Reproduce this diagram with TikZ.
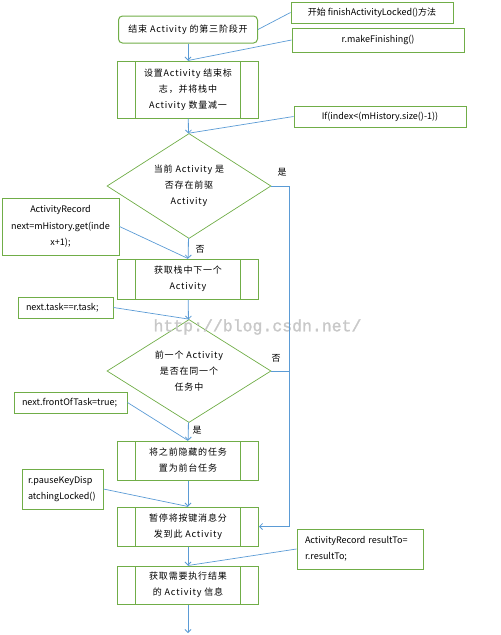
\documentclass[tikz,border=0pt]{standalone}
\usepackage{fontspec}
\setmainfont{Noto Sans CJK SC}
\newfontfamily\boxfont{Noto Sans CJK SC}[LetterSpace=9]
\newfontfamily\wmfont{Liberation Mono}[FakeBold=1.5]
\usetikzlibrary{arrows.meta,positioning,shapes.geometric}
\definecolor{boxgreen}{HTML}{70AD47}
\definecolor{lineblue}{HTML}{5B9BD5}
\definecolor{wmgray}{HTML}{C8C8C8}

\begin{document}
\begin{tikzpicture}[x=1pt,y=-1pt,
			proc/.style={draw=boxgreen,line width=1pt,minimum width=141pt,inner sep=0pt,align=center,font=\boxfont\fontsize{9}{16}\selectfont,
				path picture={
					\draw[boxgreen,line width=1pt] ([xshift=18pt]path picture bounding box.north west) -- ([xshift=18pt]path picture bounding box.south west);
					\draw[boxgreen,line width=1pt] ([xshift=-18pt]path picture bounding box.north east) -- ([xshift=-18pt]path picture bounding box.south east);}},
			decide/.style={diamond,draw=boxgreen,line width=0.7pt,aspect=1.56,inner sep=0pt,minimum width=164pt,align=center,font=\boxfont\fontsize{9}{16}\selectfont},
			note/.style={draw=boxgreen,line width=1pt,inner sep=0pt,align=center,font=\fontsize{9}{16}\selectfont},
			noteL/.style={note,align=left,inner xsep=8pt},
			flow/.style={draw=lineblue,line width=0.8pt,-{Straight Barb[length=3pt,width=6pt]}},
			link/.style={draw=lineblue,line width=0.7pt},
			lbl/.style={font=\fontsize{9}{10}\selectfont,inner sep=0pt}
			]
			\useasboundingbox (0,0) rectangle (501,635);
			% main column
			\node[draw=boxgreen,line width=1pt,rounded corners=4pt,minimum width=139pt,minimum height=27pt,font=\boxfont\fontsize{9}{16}\selectfont] (start) at (188,29.5) {结束 Activity 的第三阶段开};
			\node[proc,minimum height=57pt] (b1) at (188,89.5) {设置Activity 结束标\\志，并将栈中\\Activity 数量减一};
			\node[decide,minimum height=105pt] (d1) at (189,186) {当前 Activity 是\\否存在前驱\\Activity};
			\node[proc,minimum height=40pt] (b2) at (188,279) {获取栈中下一个\\Activity};
			\node[decide,minimum height=103pt] (d2) at (189,371) {前一个 Activity\\是否在同一个\\任务中};
			\node[proc,minimum height=39pt] (b3) at (188,460.5) {将之前隐藏的任务\\置为前台任务};
			\node[proc,minimum height=39pt] (b4) at (188,526.5) {暂停将按键消息分\\发到此 Activity};
			\node[proc,minimum height=38pt] (b5) at (188,585) {获取需要执行结果\\的 Activity 信息};
			\coordinate (fend) at (188,633);
			\coordinate (rjoin) at (289,186);
			% notes
			\node[note,minimum width=162pt,minimum height=21pt] (n1) at (372,12.5) {开始 finishActivityLocked()方法};
			\node[note,minimum width=172pt,minimum height=24pt] (n2) at (378,40) {r.makeFinishing()};
			\node[note,minimum width=172pt,minimum height=21pt] (n3) at (380,116.5) {If(index<(mHistory.size()-1))};
			\node[note,minimum width=117pt,minimum height=57pt,font=\fontsize{9}{16.5}\selectfont] (n4) at (60.5,226.5) {ActivityRecord\\next=mHistory.get(inde\\x+1);};
			\node[noteL,text width=79pt,minimum height=21pt] (n5) at (65.5,307.5) {next.task==r.task;};
			\node[noteL,text width=97pt,minimum height=21pt] (n6) at (70.5,402.5) {next.frontOfTask=true;};
			\node[noteL,text width=69pt,inner xsep=6pt,minimum height=40pt] (n7) at (62.5,489) {r.pauseKeyDisp\\atchingLocked()};
			\node[noteL,text width=110pt,minimum height=40pt] (n8) at (360,549) {ActivityRecord resultTo=\\r.resultTo;};
			% watermark
			\node[text=wmgray,font=\wmfont\fontsize{16.5}{18}\selectfont,inner sep=0pt] (wm) at (257.5,327) {http://blog.csdn.net/};
			% flow
			\draw[flow] (start) -- (b1);
			\draw[flow] (b1) -- (d1);
			\draw[flow] (d1) -- (b2);
			\draw[flow] (b2) -- (d2);
			\draw[flow] (d2) -- (b3);
			\draw[flow] (b3) -- (b4);
			\draw[flow] (b4) -- (b5);
			\draw[flow] (b5) -- (fend);
			\draw[flow] (d1.east) -- (rjoin) |- (b4.east);
			\draw[link] (d2.east) -- (d2.east -| rjoin);
			\node[lbl] (yes1) at (282,172) {是};
			\node[lbl] (no1) at (200,249) {否};
			\node[lbl] (no2) at (276,358) {否};
			\node[lbl] (yes2) at (197,430) {是};
			% note links
			\draw[link] (n1.west) -- (start.east);
			\draw[link] (n2.west) -- (b1.north);
			\draw[link] (n3.west) -- (d1.north);
			\draw[link] (n4.east) -- (b2.north);
			\draw[link] (n5.east) -- (d2.north);
			\draw[link] (n6.east) -- (b3.north);
			\draw[link] (n7.east) -- (b4.north);
			\draw[link] (n8.west) -- (b5.north);
		\end{tikzpicture}
\end{document}
